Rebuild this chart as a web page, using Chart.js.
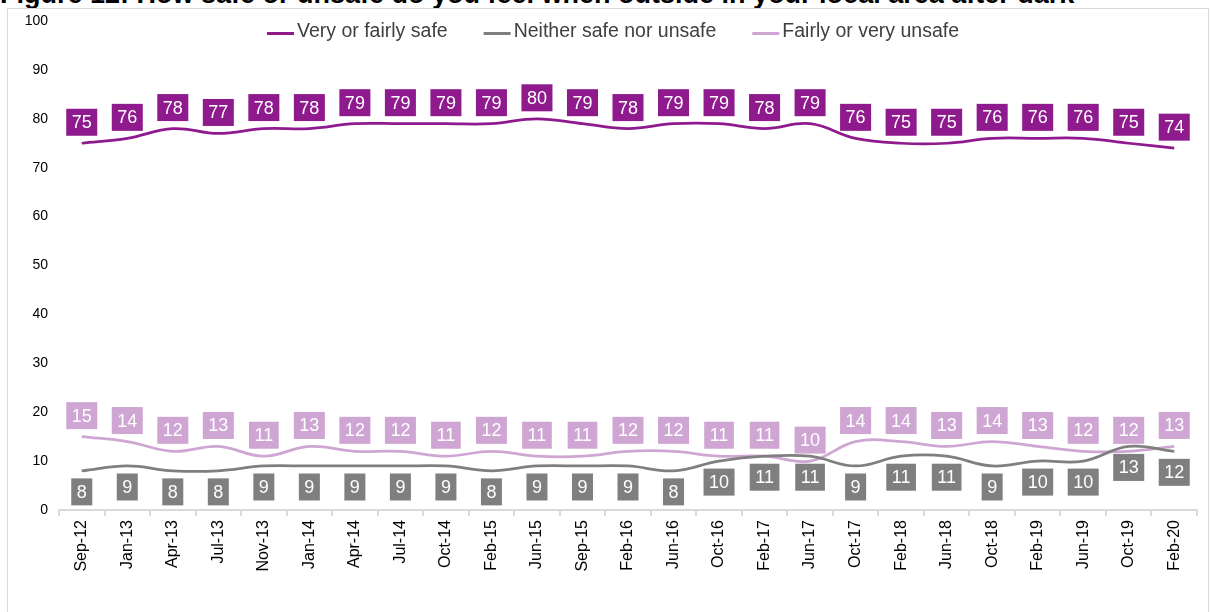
<!DOCTYPE html>
<html>
<head>
<meta charset="utf-8">
<script src="https://cdn.jsdelivr.net/npm/chart.js@4"></script>
<style>
    body { margin: 0; background: #fff; font-family: "Liberation Sans", Arial, sans-serif; }
    #wrap { position: relative; width: 1210px; height: 612px; overflow: hidden; }
    #title { position: absolute; left: 0; top: -19px; font-weight: bold; font-size: 27px; line-height: 27px; color: #000; white-space: nowrap; }
    #frame { position: absolute; left: 7px; top: 8px; width: 1200px; height: 700px; border: 1px solid #d9d9d9; }
    #chart { position: absolute; left: 0; top: 0; }
</style>
</head>
<body>
<div id="wrap">
    <div id="title">Figure 12: How safe or unsafe do you feel when outside in your local area after dark</div>
    <div id="frame"></div>
    <canvas id="chart" width="1210" height="612"></canvas>
</div>
<script>
const months = ['Sep-12', 'Jan-13', 'Apr-13', 'Jul-13', 'Nov-13', 'Jan-14', 'Apr-14', 'Jul-14', 'Oct-14',
    'Feb-15', 'Jun-15', 'Sep-15', 'Feb-16', 'Jun-16', 'Oct-16', 'Feb-17', 'Jun-17', 'Oct-17',
    'Feb-18', 'Jun-18', 'Oct-18', 'Feb-19', 'Jun-19', 'Oct-19', 'Feb-20'];
const safe = [75, 76, 78, 77, 78, 78, 79, 79, 79, 79, 80, 79, 78, 79, 79, 78, 79, 76, 75, 75, 76, 76, 76, 75, 74];
const neither = [8, 9, 8, 8, 9, 9, 9, 9, 9, 8, 9, 9, 9, 8, 10, 11, 11, 9, 11, 11, 9, 10, 10, 13, 12];
const unsafe = [15, 14, 12, 13, 11, 13, 12, 12, 11, 12, 11, 11, 12, 12, 11, 11, 10, 14, 14, 13, 14, 13, 12, 12, 13];

const FONT = '"Liberation Sans", Arial, sans-serif';

// boxed value labels: above the line for safe / unsafe, below for neither
const labelOffsets = [-21, 21, -21];
const boxLabels = {
    id: 'boxLabels',
    afterDatasetsDraw(chart) {
        const ctx = chart.ctx;
        ctx.save();
        ctx.font = '18px ' + FONT;
        ctx.textAlign = 'center';
        ctx.textBaseline = 'middle';
        chart.data.datasets.forEach((ds, i) => {
            const meta = chart.getDatasetMeta(i);
            meta.data.forEach((pt, j) => {
                const text = String(ds.data[j]);
                const w = ctx.measureText(text).width + 11;
                const h = 27;
                const cy = pt.y + labelOffsets[i];
                ctx.fillStyle = ds.borderColor;
                ctx.fillRect(pt.x - w / 2, cy - h / 2, w, h);
                ctx.fillStyle = '#fff';
                ctx.fillText(text, pt.x, cy + 1);
            });
        });
        ctx.restore();
    }
};

// legend sits inside the plot area, in the row of the top tick, like the original
const topLegend = {
    id: 'topLegend',
    afterDraw(chart) {
        const ctx = chart.ctx;
        ctx.save();
        ctx.font = '19.5px ' + FONT;
        ctx.textBaseline = 'middle';
        const sets = chart.data.datasets;
        const widths = sets.map(ds => 30 + ctx.measureText(ds.label).width);
        const total = widths.reduce((a, b) => a + b, 0) + 36 * (sets.length - 1);
        let x = 613 - total / 2;
        const y = 32;
        sets.forEach((ds, i) => {
            ctx.fillStyle = ds.borderColor;
            ctx.fillRect(x, y, 27, 3);
            ctx.fillStyle = '#404040';
            ctx.fillText(ds.label, x + 30, y);
            x += widths[i] + 36;
        });
        ctx.restore();
    }
};

function line(label, data, color) {
    return {
        label: label,
        data: data,
        borderColor: color,
        backgroundColor: color,
        borderWidth: 2.75,
        pointRadius: 0,
        tension: 0.4
    };
}

new Chart(document.getElementById('chart'), {
    type: 'line',
    data: {
        labels: months,
        datasets: [
            line('Very or fairly safe', safe, '#8e1a8e'),
            line('Neither safe nor unsafe', neither, '#7f7f7f'),
            line('Fairly or very unsafe', unsafe, '#cfa6d3')
        ]
    },
    options: {
        responsive: false,
        animation: false,
        layout: { padding: { top: 21, right: 13, left: 0, bottom: 0 } },
        plugins: {
            legend: { display: false },
            tooltip: { enabled: false }
        },
        scales: {
            x: {
                offset: true,
                afterFit(scale) { scale.height = 102; },
                grid: { display: true, drawOnChartArea: false, offset: true, tickLength: 6, color: '#d9d9d9', lineWidth: 2 },
                border: { color: '#d9d9d9', width: 2 },
                ticks: { minRotation: 90, maxRotation: 90, padding: 4, color: '#000', font: { family: FONT, size: 16 } }
            },
            y: {
                min: 0,
                max: 100,
                afterFit(scale) { scale.width = 59; },
                grid: { display: false, drawTicks: false },
                border: { display: false },
                ticks: { stepSize: 10, padding: 11, color: '#000', font: { family: FONT, size: 14 } }
            }
        }
    },
    plugins: [boxLabels, topLegend]
});
</script>
</body>
</html>
